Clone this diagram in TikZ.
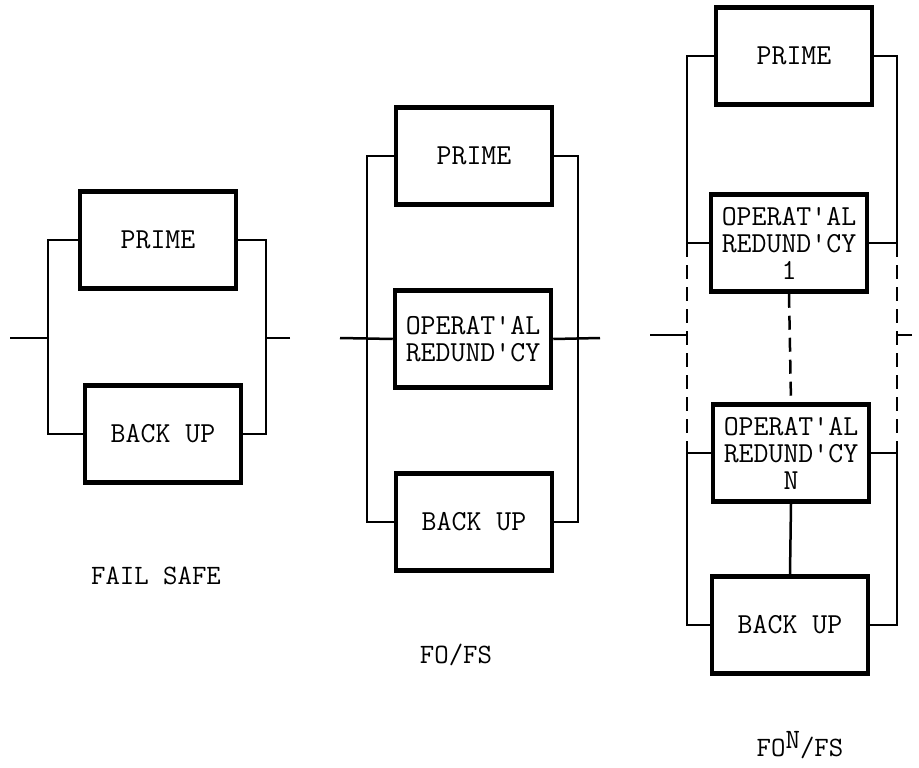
\documentclass[tikz,border=0pt]{standalone}
\usetikzlibrary{calc}
\tikzset{
	unit/.style={draw,line width=4.5pt,minimum width=156pt,minimum height=97pt,align=center,inner sep=2pt,font=\fontsize{29}{27}\selectfont\ttfamily},
	wire/.style={line width=2.5pt},
	gap/.style={line width=2.5pt,dash pattern=on 14pt off 8pt},
	caption/.style={font=\fontsize{28}{30}\selectfont\ttfamily}
}
\begin{document}
\begin{tikzpicture}[x=1pt,y=-1pt]
	\useasboundingbox (0,0) rectangle (919,768);
	% fail safe
	\node[unit] (prime1) at (158,240) {PRIME};
	\node[unit] (backup1) at (163,434) {BACK UP};
	\coordinate (l1) at (48,0);
	\coordinate (r1) at (266,0);
	\coordinate (in1) at (10,338);
	\coordinate (out1) at (290,338);
	\draw[wire] (prime1.west) -- (prime1.west -| l1) -- (backup1.west -| l1) -- (backup1.west);
	\draw[wire] (prime1.east) -- (prime1.east -| r1) -- (backup1.east -| r1) -- (backup1.east);
	\draw[wire] (in1) -- (in1 -| l1) (out1) -- (out1 -| r1);
	\node[caption] (cap1) at (156,576) {FAIL SAFE};
	% fo/fs
	\node[unit] (prime2) at (474,156) {PRIME};
	\node[unit] (opred2) at (473,339) {OPERAT'AL\\REDUND'CY};
	\node[unit] (backup2) at (474,522) {BACK UP};
	\coordinate (l2) at (367,0);
	\coordinate (r2) at (578,0);
	\coordinate (in2) at (340,338);
	\coordinate (out2) at (600,338);
	\draw[wire] (prime2.west) -- (prime2.west -| l2) -- (backup2.west -| l2) -- (backup2.west);
	\draw[wire] (prime2.east) -- (prime2.east -| r2) -- (backup2.east -| r2) -- (backup2.east);
	\draw[wire] (in2) -- (opred2.west) (opred2.east) -- (out2);
	\node[caption] (cap2) at (456,655) {FO/FS};
	% fo^n/fs
	\node[unit] (prime3) at (794,56) {PRIME};
	\node[unit] (opred3a) at (789,243) {OPERAT'AL\\REDUND'CY\\1};
	\node[unit] (opred3b) at (791,453) {OPERAT'AL\\REDUND'CY\\N};
	\node[unit] (backup3) at (790,625) {BACK UP};
	\coordinate (l3) at (687,0);
	\coordinate (r3) at (897,0);
	\coordinate (in3) at (650,335);
	\coordinate (out3) at (912,335);
	\foreach \side/\bus in {west/l3,east/r3} {
		\draw[wire] (prime3.\side) -- (prime3.\side -| \bus) -- (opred3a.\side -| \bus) -- (opred3a.\side);
		\draw[gap] (opred3a.\side -| \bus) -- (opred3b.\side -| \bus);
		\draw[wire] (opred3b.\side) -- (opred3b.\side -| \bus) -- (backup3.\side -| \bus) -- (backup3.\side);
	}
	\draw[gap] (opred3a.south) -- (opred3b.north);
	\draw[wire] (opred3b.south) -- (backup3.north);
	\draw[wire] (in3) -- (in3 -| l3) (out3) -- (out3 -| r3);
	\node[caption] (cap3) at (800,745) {FO\raisebox{0.7ex}{N}/FS};
\end{tikzpicture}
\end{document}
